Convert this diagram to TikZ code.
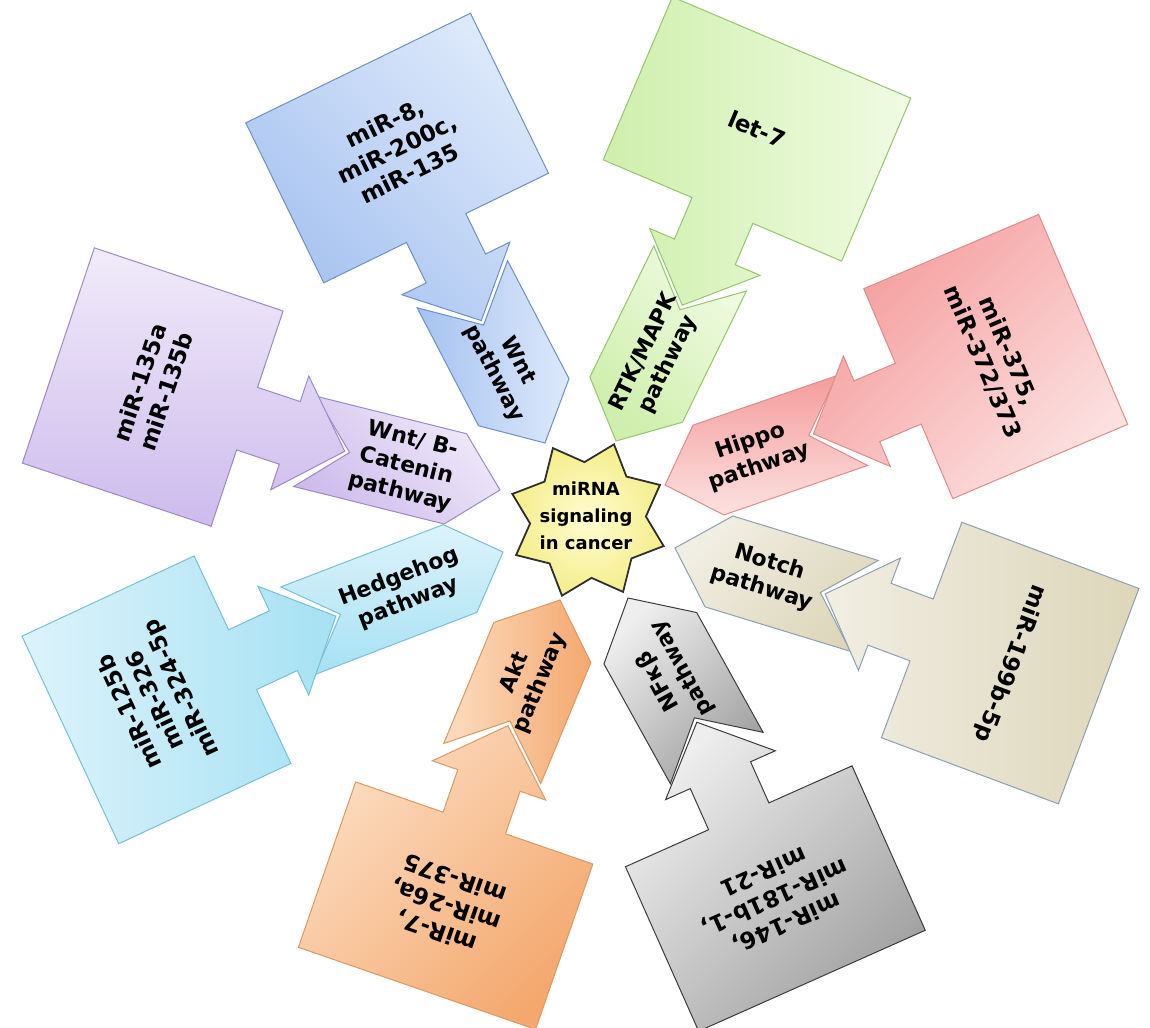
\documentclass[tikz,border=0pt]{standalone}
\usepackage{fontspec}
\setmainfont{DejaVu Sans}
\usepackage{tikz}

% line and fill colours of the eight arms and of the core
\definecolor{wntline}{HTML}{6F8FC8}
\definecolor{wntL}{HTML}{DDE9FB}
\definecolor{wntD}{HTML}{A6C2F0}
\definecolor{rtkline}{HTML}{98C46E}
\definecolor{rtkL}{HTML}{F0FBE3}
\definecolor{rtkD}{HTML}{CFEFAC}
\definecolor{hippoline}{HTML}{DD8D8D}
\definecolor{hippoL}{HTML}{FCE1E1}
\definecolor{hippoD}{HTML}{F59C9C}
\definecolor{cateninline}{HTML}{9D8AC6}
\definecolor{cateninL}{HTML}{F1EBFA}
\definecolor{cateninD}{HTML}{CDBBEC}
\definecolor{hedgehogline}{HTML}{7BBFD6}
\definecolor{hedgehogL}{HTML}{DDF3FB}
\definecolor{hedgehogD}{HTML}{A6E1F3}
\definecolor{notchline}{HTML}{8E9FB2}
\definecolor{notchL}{HTML}{F1EEE3}
\definecolor{notchD}{HTML}{DDD6BA}
\definecolor{aktline}{HTML}{D99A66}
\definecolor{aktL}{HTML}{FCDDC2}
\definecolor{aktD}{HTML}{F4A86E}
\definecolor{nfkbline}{HTML}{3C3C3C}
\definecolor{nfkbL}{HTML}{EEEEEE}
\definecolor{nfkbD}{HTML}{A0A0A0}
\definecolor{coreline}{HTML}{2F2F2F}
\definecolor{coreL}{HTML}{FFFCD2}
\definecolor{coreD}{HTML}{F4EE8C}

% #1 name, #2 tip, #3 angle, #4 length, #5 width, #6 look, #7 text angle, #8 text
\newcommand{\pathchevron}[8]{%
  \begin{scope}[shift={#2},rotate=#3]
    \path[#6] (0,0) -- (46,#5/2) -- (#4,#5/2) -- (#4-46,0) -- (#4,-#5/2) -- (46,-#5/2) -- cycle;
    \coordinate (#1-dock) at (#4-41,0);
    \node[pathtext,rotate=#7] (#1) at (#4/2-4,0) {#8};
  \end{scope}}

% #1 name, #2 arrow tip, #3 angle, #4 box length, #5 box width, #6 look, #7 text angle, #8 text
\newcommand{\mircallout}[8]{%
  \begin{scope}[shift={(#2)},rotate=#3]
    \path[#6] (0,0) -- (58,60) -- (58,33) -- (103,33) -- (103,#5/2) -- (103+#4,#5/2)
      -- (103+#4,-#5/2) -- (103,-#5/2) -- (103,-33) -- (58,-33) -- (58,-60) -- cycle;
    \node[mirtext,rotate=#7] (#1) at (103+#4/2,0) {#8};
  \end{scope}}

\begin{document}
\begin{tikzpicture}[x=0.5pt,y=0.5pt,
  mirtext/.style={font=\bfseries\fontsize{11.5}{14}\selectfont,align=center,inner sep=0pt},
  pathtext/.style={font=\bfseries\fontsize{11}{13.5}\selectfont,align=center,inner sep=0pt},
  coretext/.style={font=\bfseries\fontsize{9}{13.5}\selectfont,align=center,inner sep=0pt},
  armfill/.style n args={4}{draw=#1,line width=0.5pt,top color=#2,bottom color=#3,shading angle=#4},
  corestar/.style={draw=coreline,line width=0.9pt,inner color=coreL,outer color=coreD}]
  \useasboundingbox (0,0) rectangle (1150,-1027);

  % Wnt (blue), upper left
  \pathchevron{wnt}{(545,-443)}{117.5}{179}{102}{armfill={wntline}{wntL}{wntD}{-90}}{-62.5}{Wnt\\pathway}
  \mircallout{wntmir}{wnt-dock}{116}{178}{250}{armfill={wntline}{wntL}{wntD}{-45}}{26}{miR-8,\\miR-200c,\\miR-135}
  % RTK/MAPK (green), top
  \pathchevron{rtk}{(616,-441)}{64}{192}{103}{armfill={rtkline}{rtkL}{rtkD}{-45}}{64}{RTK/MAPK\\pathway}
  \mircallout{rtkmir}{rtk-dock}{67}{177}{259}{armfill={rtkline}{rtkL}{rtkD}{-90}}{-23}{let-7}
  % Hippo (red), right
  \pathchevron{hippo}{(665,-485)}{19}{198}{95}{armfill={hippoline}{hippoL}{hippoD}{180}}{19}{Hippo\\pathway}
  \mircallout{hippomir}{hippo-dock}{23}{190}{228}{armfill={hippoline}{hippoL}{hippoD}{-135}}{-67}{miR-375,\\miR-372/373}
  % Wnt/B-Catenin (purple), left
  \pathchevron{catenin}{(500,-490)}{166}{201}{93}{armfill={cateninline}{cateninL}{cateninD}{-45}}{-14}{Wnt/ B-\\Catenin\\pathway}
  \mircallout{cateninmir}{catenin-dock}{161.5}{199}{227}{armfill={cateninline}{cateninL}{cateninD}{0}}{71.5}{miR-135a\\miR-135b}
  % Hedgehog (cyan), lower left
  \pathchevron{hedgehog}{(503,-552)}{201}{220}{94}{armfill={hedgehogline}{hedgehogL}{hedgehogD}{0}}{21}{Hedgehog\\pathway}
  \mircallout{hedgehogmir}{hedgehog-dock}{205}{190}{229}{armfill={hedgehogline}{hedgehogL}{hedgehogD}{90}}{115}{miR-125b\\miR-326\\miR-324-5p}
  % Akt (orange), bottom
  \pathchevron{akt}{(560,-600)}{247.5}{177}{105}{armfill={aktline}{aktL}{aktD}{90}}{67.5}{Akt\\pathway}
  \mircallout{aktmir}{akt-dock}{250.9}{175}{251}{armfill={aktline}{aktL}{aktD}{45}}{160.9}{miR-7,\\miR-26a,\\miR-375}
  % NFkB (grey), bottom right
  \pathchevron{nfkb}{(628,-598)}{299}{183}{106}{armfill={nfkbline}{nfkbL}{nfkbD}{45}}{119}{NFκβ\\pathway}
  \mircallout{nfkbmir}{nfkb-dock}{294}{180}{248}{armfill={nfkbline}{nfkbL}{nfkbD}{45}}{204}{miR-146,\\miR-181b-1,\\miR-21}
  % Notch (beige), right
  \pathchevron{notch}{(675,-548)}{343}{198}{95}{armfill={notchline}{notchL}{notchD}{45}}{-17}{Notch\\pathway}
  \mircallout{notchmir}{notch-dock}{339.5}{189}{230}{armfill={notchline}{notchL}{notchD}{90}}{249.5}{miR-199b-5p}

  % core star
  \path[corestar,shift={(588,-520)}] (26:80) \foreach \a in {26,71,...,341}{ -- (\a:80) -- (\a+22.5:58)} -- cycle;
  \node[coretext] (core) at (586,-516) {miRNA\\signaling\\in cancer};
\end{tikzpicture}
\end{document}
